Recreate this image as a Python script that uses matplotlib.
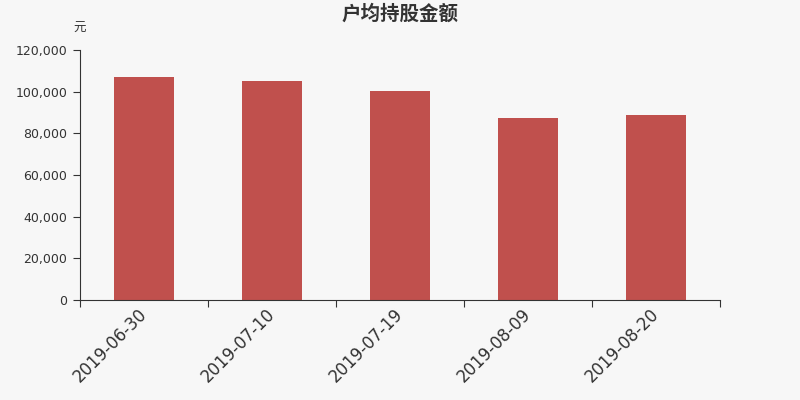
import matplotlib.pyplot as plt

dates = ['2019-06-30', '2019-07-10', '2019-07-19', '2019-08-09', '2019-08-20']
amounts = [107000, 105100, 100300, 87600, 88700]
yticks = [0, 20000, 40000, 60000, 80000, 100000, 120000]

plt.rcParams['font.family'] = ['DejaVu Sans', 'Noto Sans CJK SC']
bg = '#f7f7f7'
txt = '#333333'

fig = plt.figure(figsize=(8, 4), dpi=100, facecolor=bg)
ax = fig.add_axes([0.1, 0.25, 0.8, 0.625], facecolor=bg)

x = list(range(len(dates)))
ax.bar(x, amounts, width=0.47, color='#c0504d', zorder=2)

ax.set_xlim(-0.5, len(dates) - 0.5)
ax.set_ylim(0, 120000)
ax.set_yticks(yticks)
ax.set_yticklabels([f'{v:,}' for v in yticks], fontsize=9, color=txt)

# major ticks sit between categories, labels go on the minor ticks
ax.set_xticks([i - 0.5 for i in range(len(dates) + 1)])
ax.set_xticklabels([])
ax.set_xticks(x, minor=True)
ax.set_xticklabels(dates, minor=True, rotation=45, ha='right', va='center',
                   rotation_mode='anchor', fontsize=12, color=txt)
ax.tick_params(axis='x', which='major', length=5, color=txt)
ax.tick_params(axis='x', which='minor', length=0, pad=8)
ax.tick_params(axis='y', length=5, color=txt, pad=4)

for s in ['top', 'right']:
    ax.spines[s].set_visible(False)
for s in ['left', 'bottom']:
    ax.spines[s].set_color(txt)

cjk = ['Noto Sans CJK SC', 'DejaVu Sans']
fig.text(0.5, 0.965, '户均持股金额', ha='center', va='center', fontsize=14,
         fontweight='bold', color=txt, family=cjk)
fig.text(0.099, 0.928, '元', ha='center', va='center', fontsize=9, color=txt,
         family=cjk)

fig.savefig('out.png', dpi=100, facecolor=bg)
